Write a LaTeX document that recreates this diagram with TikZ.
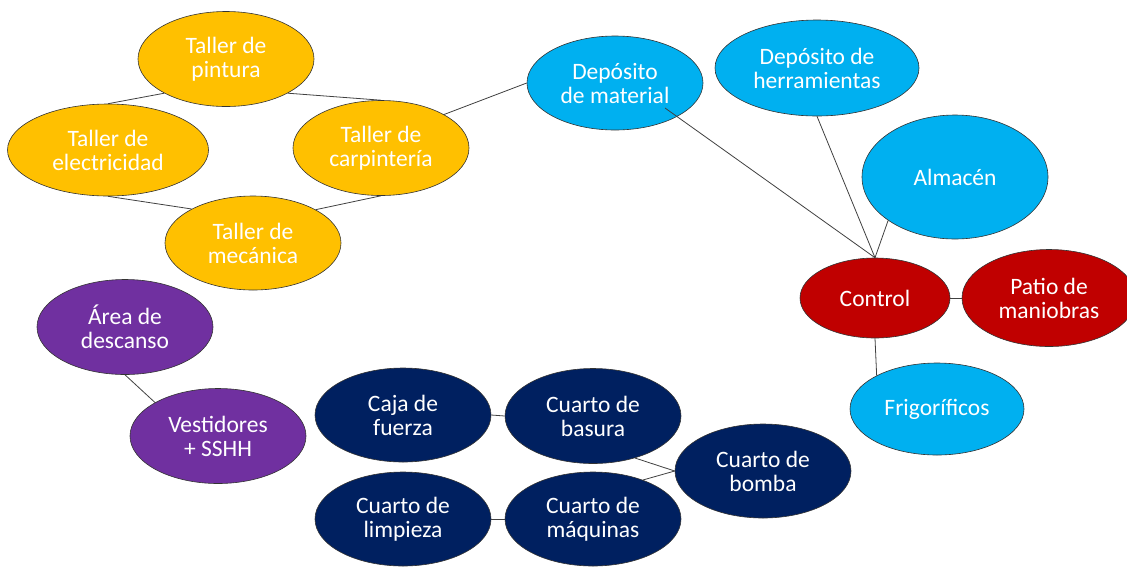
\documentclass[tikz,border=0pt]{standalone}
\usepackage{fontspec}
\setmainfont{Carlito}
\usetikzlibrary{shapes.geometric}
\definecolor{cyel}{HTML}{FFC000}
\definecolor{cblu}{HTML}{00B0F0}
\definecolor{cred}{HTML}{C00000}
\definecolor{cpur}{HTML}{7030A0}
\definecolor{cnav}{HTML}{002060}
\definecolor{cline}{HTML}{404040}
\tikzset{
  bub/.style={ellipse, draw=black!80, line width=0.6pt, inner sep=0pt,
    text=white, align=center, font=\fontsize{23.5}{24}\selectfont},
  bub88/.style={bub, minimum width=176pt, minimum height=95pt},
  link/.style={draw=cline, line width=0.8pt},
}
\begin{document}
\begin{tikzpicture}[x=1pt,y=-1pt]
\useasboundingbox (0,0) rectangle (1127,566);
% yellow
\node[bub88, fill=cyel] (pint) at (226,59) {Taller de\\pintura};
\node[bub, fill=cyel, minimum width=201pt, minimum height=92pt] (elec) at (108,150) {Taller de\\electricidad};
\node[bub88, fill=cyel] (carp) at (381,148) {Taller de\\carpintería};
\node[bub88, fill=cyel, minimum height=94pt] (mec) at (253,243) {Taller de\\mecánica};
% blue
\node[bub88, fill=cblu, minimum height=94pt] (depm) at (615,83) {Depósito\\de material};
\node[bub, fill=cblu, minimum width=204pt, minimum height=96pt] (deph) at (817,68) {Depósito de\\herramientas};
\node[bub, fill=cblu, minimum width=186pt, minimum height=124pt] (alm) at (955,177) {Almacén};
\node[bub, fill=cblu, minimum width=174pt, minimum height=92pt] (frig) at (937,409) {Frigoríficos};
% red
\node[bub, fill=cred, minimum width=150pt, minimum height=80pt] (ctrl) at (875,298) {Control};
\node[bub, fill=cred, minimum width=174pt, minimum height=97pt] (patio) at (1049,298) {Patio de\\maniobras};
% purple
\node[bub88, fill=cpur] (area) at (125,327) {Área de\\descanso};
\node[bub88, fill=cpur] (vest) at (218,436) {Vestidores\\+ SSHH};
% navy
\node[bub88, fill=cnav, minimum height=94pt] (caja) at (403,415) {Caja de\\fuerza};
\node[bub88, fill=cnav] (bas) at (593,416) {Cuarto de\\basura};
\node[bub88, fill=cnav, minimum height=94pt] (bomb) at (763,471) {Cuarto de\\bomba};
\node[bub88, fill=cnav, minimum height=94pt] (limp) at (403,519) {Cuarto de\\limpieza};
\node[bub88, fill=cnav, minimum height=94pt] (maq) at (593,519) {Cuarto de\\máquinas};
% links
\draw[link] (pint.209) -- (elec.north);
\draw[link] (pint.-29) -- (carp.north);
\draw[link] (carp.28) -- (depm.west);
\draw[link] (elec.south) -- (mec.151);
\draw[link] (mec.28) -- (carp.south);
\coordinate (dmin) at ([xshift=50pt,yshift=-25pt]depm.center);
\draw[link] (dmin) -- (ctrl.north);
\draw[link] (deph.south) -- (ctrl.north);
\draw[link] (alm.213.5) -- (ctrl.north);
\draw[link] (ctrl.east) -- (patio.west);
\draw[link] (ctrl.south) -- (frig.151);
\draw[link] (area.south) -- (vest.152);
\draw[link] (caja.east) -- (bas.west);
\draw[link] (bas.-45) -- (bomb.west);
\draw[link] (maq.38.7) -- (bomb.west);
\draw[link] (limp.east) -- (maq.west);
\end{tikzpicture}
\end{document}
